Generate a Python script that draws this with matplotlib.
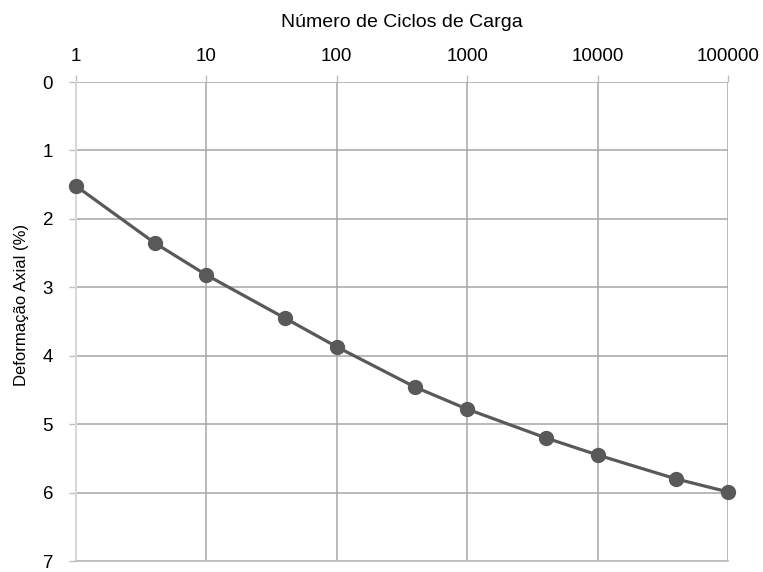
import matplotlib
matplotlib.use("Agg")
import matplotlib.pyplot as plt

ciclos = [1, 4, 10, 40, 100, 400, 1000, 4000, 10000, 40000, 100000]
deformacao = [1.52, 2.35, 2.82, 3.45, 3.87, 4.46, 4.78, 5.20, 5.45, 5.80, 5.99]
x_ticks = [1, 10, 100, 1000, 10000, 100000]
y_ticks = [0, 1, 2, 3, 4, 5, 6, 7]


def main() -> None:
    plt.rcParams["font.family"] = ["Liberation Sans", "DejaVu Sans"]
    fig = plt.figure(figsize=(7.63, 5.72), dpi=100)
    ax = fig.add_axes([0.0996, 0.0192, 0.8545, 0.8374])

    ax.plot(ciclos, deformacao, color="#595959", lw=2.3, marker="o",
            markersize=10, zorder=3, clip_on=False)

    ax.set_xscale("log")
    ax.set_xlim(1, 100000)
    ax.set_ylim(7, 0)
    ax.set_xticks(x_ticks)
    ax.set_xticklabels([str(v) for v in x_ticks])
    ax.minorticks_off()
    ax.set_yticks(y_ticks)

    ax.xaxis.set_ticks_position("top")
    ax.xaxis.set_label_position("top")
    ax.tick_params(axis="x", which="major", length=5, width=1, color="#bfbfbf",
                   pad=7.5, labelsize=13.5)
    ax.tick_params(axis="y", which="major", length=5, width=1, color="#bfbfbf",
                   pad=11.5, labelsize=13.5)

    ax.grid(True, color="#a6a6a6", lw=1.1)
    ax.set_axisbelow(True)
    for side in ["top", "right"]:
        ax.spines[side].set_visible(False)
    ax.spines["left"].set_color("#d9d9d9")
    ax.spines["left"].set_linewidth(1.5)
    ax.spines["bottom"].set_color("#bfbfbf")
    ax.spines["bottom"].set_linewidth(1.3)

    ax.set_xlabel("Número de Ciclos de Carga", fontsize=14, labelpad=15)
    ax.set_ylabel("Deformação Axial (%)", fontsize=12)
    ax.yaxis.set_label_coords(-0.072, 0.534)

    fig.savefig("out.png", dpi=100)


if __name__ == "__main__":
    main()
